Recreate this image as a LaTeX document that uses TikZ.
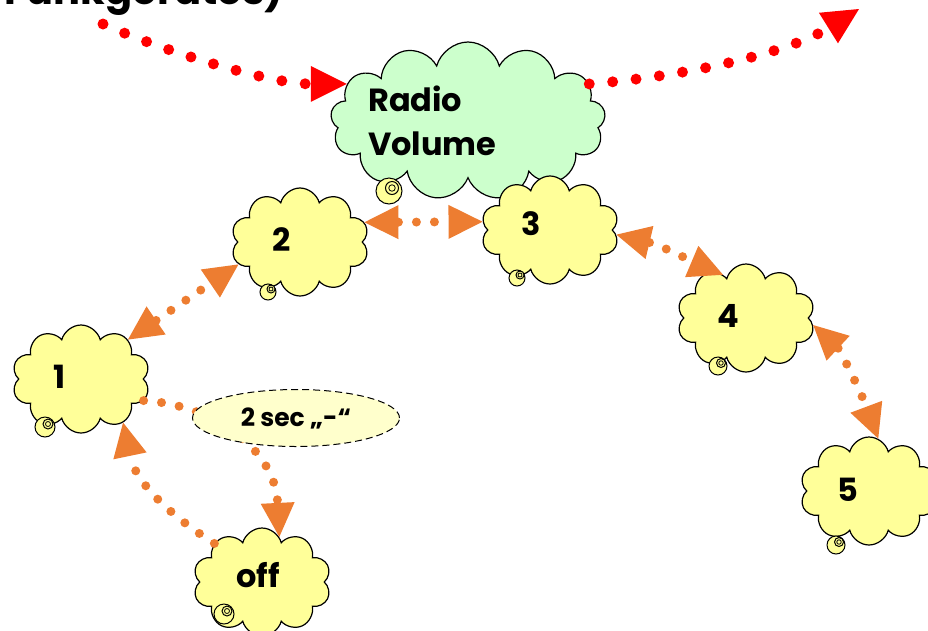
\documentclass[tikz,border=0pt]{standalone}
\usepackage{fontspec}
\setmainfont{Poppins}
\usetikzlibrary{shapes.symbols,shapes.geometric,arrows.meta}
\definecolor{cyel}{HTML}{FFFF99}
\definecolor{cgrn}{HTML}{CCFFCC}
\definecolor{corg}{HTML}{ED7D31}
\definecolor{cell}{HTML}{FFFFCC}
\begin{document}
\begin{tikzpicture}[x=1pt,y=-1pt,
  ycloud/.style={cloud, cloud puffs=10, cloud ignores aspect, draw=black, line width=1.2pt, fill=cyel, minimum width=138pt, minimum height=108pt, inner sep=0pt},
  lbl/.style={font=\fontsize{32}{44}\bfseries\selectfont, inner sep=0pt},
  tail/.style={draw=black, line width=1pt, fill=cyel},
  otip/.tip={Triangle[length=34pt,width=34pt,line width=0pt]},
  rtip/.tip={Triangle[length=36pt,width=36pt,line width=0pt]},
  oarr/.style={draw=corg, line width=9pt, line cap=round, dash pattern=on 0pt off 18pt},
  rarr/.style={draw=red, line width=11pt, line cap=round, dash pattern=on 0pt off 23.5pt, -rtip}
]
\useasboundingbox (0,0) rectangle (928,630);
\node[font=\fontsize{40}{40}\bfseries\selectfont, anchor=base east, inner sep=0pt] (title) at (284,4) {Funkgerätes)};

% clouds
\node[ycloud, fill=cgrn, minimum width=275pt, minimum height=158pt, cloud puffs=13] (radio) at (468,121) {};
\node[ycloud] (c2) at (300,242) {};
\node[ycloud] (c3) at (550,230) {};
\node[ycloud] (c4) at (746,318) {};
\node[ycloud] (c5) at (869,491) {};
\node[ycloud] (c1) at (81,379) {};
\node[ycloud] (coff) at (262,582) {};

% labels
\node[lbl, anchor=west, align=left] (tr) at (368,121) {Radio\\Volume};
\node[lbl] (t2) at (282,240) {2};
\node[lbl] (t3) at (531,224) {3};
\node[lbl] (t4) at (728,316) {4};
\node[lbl] (t5) at (848,490) {5};
\node[lbl] (t1) at (60,377) {1};
\node[lbl] (toff) at (258,575) {off};

% tails
\foreach \x/\y/\r in {389/191/13, 268/292/8, 517/278/8, 718/366/9, 836/545/9, 45/427/10, 224/614/10}{
  \draw[tail] (\x,\y) circle (\r pt);
  \draw[tail] (\x+3,\y-3) circle (0.5*\r pt);
  \draw[line width=0.8pt] (\x+3,\y-3) circle (0.25*\r pt);
}

% orange connectors
\draw[oarr, otip-otip] (c1.40) -- (c2.200);
\draw[oarr, otip-otip] (c2.17) -- (c3.173);
\draw[oarr, otip-otip] (c3.-4) .. controls (660,245) and (700,265) .. (c4.118);
\draw[oarr, otip-otip] (c4.-6) .. controls (840,350) and (860,390) .. (c5.80);
\draw[oarr, -otip] (coff.141) .. controls (165,512) and (135,480) .. (c1.-46);
\draw[oarr, -otip] (c1.-19) .. controls (215,405) and (275,450) .. (coff.69);

% ellipse label
\node[ellipse, draw=black, line width=1pt, dash pattern=on 7pt off 4pt, fill=cell, minimum width=207pt, minimum height=57pt, inner sep=0pt, font=\fontsize{25}{25}\bfseries\selectfont] (sec) at (296,418) {2 sec „-“};

% red connectors
\coordinate (rs) at (103,24);
\draw[rarr] (rs) .. controls (163,51) and (270,84) .. (radio.163);
\coordinate (re) at (859,9);
\draw[rarr] (radio.17) .. controls (690,76) and (790,52) .. (re);
\end{tikzpicture}
\end{document}
